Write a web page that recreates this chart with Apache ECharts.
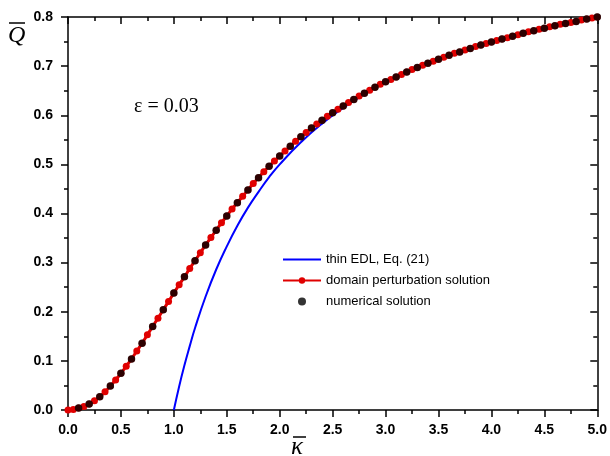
<!DOCTYPE html>
<html>
<head>
<meta charset="utf-8">
<script src="https://cdn.jsdelivr.net/npm/echarts@6/dist/echarts.min.js"></script>
<style>
  html, body { margin: 0; padding: 0; background: #fff; }
  #chart { width: 610px; height: 456px; }
</style>
</head>
<body>
<div id="chart"></div>
<script>
// thin EDL, Eq. (21)
var kappaThin = [1.0, 1.05, 1.1, 1.15, 1.2, 1.3, 1.4, 1.5, 1.6, 1.7, 1.8, 1.9, 2.0,
    2.2, 2.4, 2.6, 2.8, 3.0, 3.5, 4.0, 4.5, 5.0];
var qThin = [0.0, 0.048, 0.091, 0.130, 0.167, 0.231, 0.286, 0.333, 0.375, 0.412, 0.444, 0.474, 0.500,
    0.545, 0.583, 0.615, 0.643, 0.667, 0.714, 0.750, 0.778, 0.800];

// domain perturbation solution (every 0.05)
var kappaDom = [0.0, 0.05, 0.1, 0.15, 0.2, 0.25, 0.3, 0.35, 0.4, 0.45, 0.5, 0.55, 0.6, 0.65, 0.7, 0.75, 0.8, 0.85, 0.9, 0.95,
    1.0, 1.05, 1.1, 1.15, 1.2, 1.25, 1.3, 1.35, 1.4, 1.45, 1.5, 1.55, 1.6, 1.65, 1.7, 1.75, 1.8, 1.85, 1.9, 1.95,
    2.0, 2.05, 2.1, 2.15, 2.2, 2.25, 2.3, 2.35, 2.4, 2.45, 2.5, 2.55, 2.6, 2.65, 2.7, 2.75, 2.8, 2.85, 2.9, 2.95,
    3.0, 3.05, 3.1, 3.15, 3.2, 3.25, 3.3, 3.35, 3.4, 3.45, 3.5, 3.55, 3.6, 3.65, 3.7, 3.75, 3.8, 3.85, 3.9, 3.95,
    4.0, 4.05, 4.1, 4.15, 4.2, 4.25, 4.3, 4.35, 4.4, 4.45, 4.5, 4.55, 4.6, 4.65, 4.7, 4.75, 4.8, 4.85, 4.9, 4.95, 5.0];
var qDom = [0.000, 0.001, 0.004, 0.007, 0.012, 0.019, 0.027, 0.037, 0.049, 0.061, 0.075, 0.089, 0.104, 0.120, 0.136, 0.153, 0.170, 0.187, 0.204, 0.221,
    0.238, 0.255, 0.271, 0.288, 0.304, 0.320, 0.336, 0.351, 0.366, 0.381, 0.395, 0.409, 0.422, 0.435, 0.448, 0.461, 0.473, 0.485, 0.496, 0.507,
    0.517, 0.527, 0.537, 0.547, 0.556, 0.565, 0.574, 0.582, 0.590, 0.598, 0.605, 0.612, 0.619, 0.626, 0.632, 0.639, 0.645, 0.651, 0.657, 0.663,
    0.668, 0.673, 0.678, 0.683, 0.688, 0.693, 0.697, 0.702, 0.706, 0.710, 0.714, 0.718, 0.722, 0.726, 0.729, 0.733, 0.736, 0.740, 0.743, 0.746,
    0.749, 0.752, 0.755, 0.758, 0.761, 0.764, 0.767, 0.770, 0.772, 0.775, 0.777, 0.780, 0.782, 0.785, 0.787, 0.789, 0.791, 0.794, 0.796, 0.798, 0.800];

// numerical solution (every 0.1)
var kappaNum = [0.1, 0.2, 0.3, 0.4, 0.5, 0.6, 0.7, 0.8, 0.9, 1.0, 1.1, 1.2, 1.3, 1.4, 1.5, 1.6, 1.7, 1.8, 1.9, 2.0,
    2.1, 2.2, 2.3, 2.4, 2.5, 2.6, 2.7, 2.8, 2.9, 3.0, 3.1, 3.2, 3.3, 3.4, 3.5, 3.6, 3.7, 3.8, 3.9, 4.0,
    4.1, 4.2, 4.3, 4.4, 4.5, 4.6, 4.7, 4.8, 4.9, 5.0];
var qNum = [0.004, 0.012, 0.027, 0.049, 0.075, 0.104, 0.136, 0.170, 0.204, 0.238, 0.271, 0.304, 0.336, 0.366, 0.395, 0.422, 0.448, 0.473, 0.496, 0.517,
    0.537, 0.556, 0.574, 0.590, 0.605, 0.619, 0.632, 0.645, 0.657, 0.668, 0.678, 0.688, 0.697, 0.706, 0.714, 0.722, 0.729, 0.736, 0.743, 0.749,
    0.755, 0.761, 0.767, 0.772, 0.777, 0.782, 0.787, 0.791, 0.796, 0.800];

function pairs(xs, ys) {
    var out = [];
    for (var i = 0; i < xs.length; i++) out.push([xs[i], ys[i]]);
    return out;
}

var chart = echarts.init(document.getElementById('chart'));

var labelFont = {fontFamily: 'Liberation Sans', fontWeight: 'bold', fontSize: 14, color: '#000'};
var axisLine = {show: true, onZero: false, lineStyle: {color: '#000', width: 1.5}};
var fmt = function (v) { return v.toFixed(1); };

// ticks outward on bottom/left, inward on the mirrored top/right axes
function ticks(inside) {
    return {
        axisTick: {show: true, inside: inside, length: 7, lineStyle: {color: '#000', width: 1.5}},
        minorTick: {show: true, splitNumber: 2, length: 4, lineStyle: {color: '#000', width: 1.5}}
    };
}

option = {
    animation: false,
    grid: {left: 68, right: 11, top: 17, bottom: 46},
    legend: {
        orient: 'vertical',
        left: 277,
        top: 248,
        itemWidth: 38,
        itemHeight: 8,
        itemGap: 8,
        textStyle: {fontFamily: 'Liberation Sans', fontSize: 13, color: '#000'},
        data: [
            {name: 'thin EDL, Eq. (21)', itemStyle: {opacity: 0}},
            'domain perturbation solution',
            'numerical solution'
        ]
    },
    xAxis: [Object.assign({
        type: 'value', min: 0, max: 5, interval: 0.5,
        axisLine: axisLine,
        axisLabel: Object.assign({margin: 13, formatter: fmt}, labelFont),
        splitLine: {show: false}
    }, ticks(false)), Object.assign({
        type: 'value', min: 0, max: 5, interval: 0.5, position: 'top',
        axisLine: axisLine,
        axisLabel: {show: false},
        splitLine: {show: false}
    }, ticks(true))],
    yAxis: [Object.assign({
        type: 'value', min: 0, max: 0.8, interval: 0.1,
        axisLine: axisLine,
        axisLabel: Object.assign({margin: 15, formatter: fmt}, labelFont),
        splitLine: {show: false}
    }, ticks(false)), Object.assign({
        type: 'value', min: 0, max: 0.8, interval: 0.1, position: 'right',
        axisLine: axisLine,
        axisLabel: {show: false},
        splitLine: {show: false}
    }, ticks(true))],
    graphic: [
        {type: 'text', left: 134, top: 97, style: {text: 'ε = 0.03', font: '20px "Liberation Serif"', fill: '#000'}},
        {type: 'text', left: 8, top: 24, style: {text: 'Q', font: 'italic 24px "Liberation Serif"', fill: '#000'}},
        {type: 'line', shape: {x1: 9, y1: 23, x2: 25, y2: 23}, style: {stroke: '#000', lineWidth: 1.5}},
        {type: 'text', left: 291, top: 435, style: {text: 'κ', font: 'italic 25px "Liberation Serif"', fill: '#000'}},
        {type: 'line', shape: {x1: 293, y1: 437, x2: 306, y2: 437}, style: {stroke: '#000', lineWidth: 1.5}}
    ],
    series: [
        {
            name: 'thin EDL, Eq. (21)',
            type: 'line',
            smooth: true,
            showSymbol: false,
            symbol: 'none',
            color: '#0000ff',
            lineStyle: {width: 2, color: '#0000ff'},
            z: 2,
            data: pairs(kappaThin, qThin)
        },
        {
            name: 'domain perturbation solution',
            type: 'line',
            smooth: true,
            symbol: 'circle',
            symbolSize: 7,
            color: '#e00000',
            itemStyle: {color: '#e00000'},
            lineStyle: {width: 3, color: '#e00000'},
            z: 3,
            data: pairs(kappaDom, qDom)
        },
        {
            name: 'numerical solution',
            type: 'scatter',
            symbol: 'circle',
            symbolSize: 7.5,
            color: '#000',
            itemStyle: {color: '#000'},
            z: 4,
            data: pairs(kappaNum, qNum)
        }
    ]
};
chart.setOption(option);
</script>
</body>
</html>
